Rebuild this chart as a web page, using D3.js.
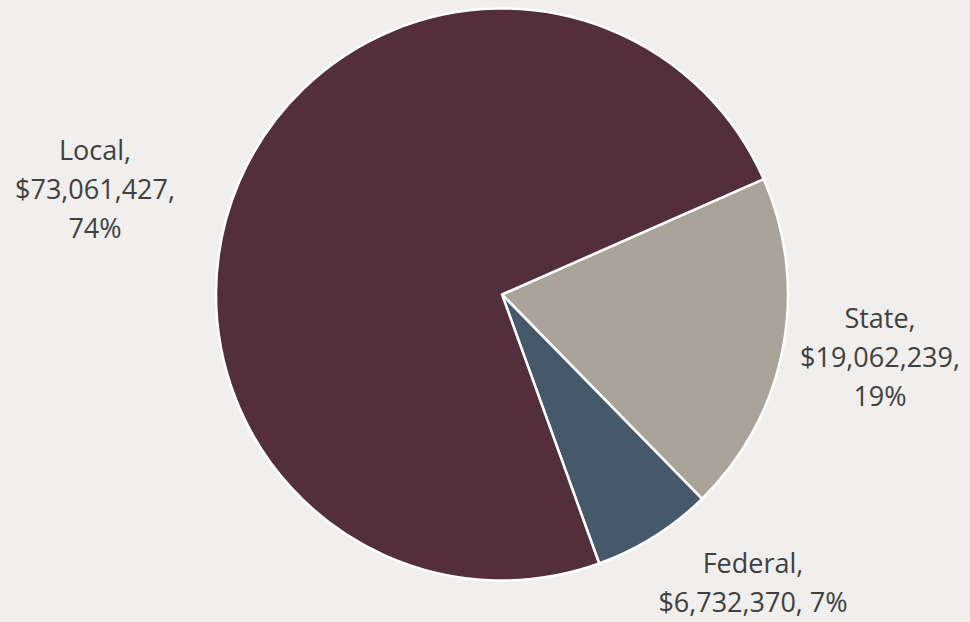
<!DOCTYPE html>
<html>
<head>
<meta charset="utf-8">
<script src="https://cdn.jsdelivr.net/npm/d3@7"></script>
<style>
  html, body { margin: 0; padding: 0; background: #f0efed; }
  svg { display: block; }
  text { font-family: "Open Sans", "Noto Sans", sans-serif; fill: #404040; }
</style>
</head>
<body>
<svg id="chart" width="970" height="622"></svg>
<script>
// Funding sources, in drawing order (clockwise from the State slice)
const categories = ["State", "Federal", "Local"];
const amounts = [19062239, 6732370, 73061427];
const percents = ["19%", "7%", "74%"];
const colors = ["#aaa39a", "#46596b", "#522f3b"];

// Label lines and anchor points for each slice
const labelLines = [
  ["State,", "$19,062,239,", "19%"],
  ["Federal,", "$6,732,370, 7%"],
  ["Local,", "$73,061,427,", "74%"]
];
const labelPos = [[880, 328], [753, 573], [95, 160]];

const width = 970, height = 622;
const cx = 502, cy = 294.5, radius = 286;
const startAngle = 66.2 * Math.PI / 180;

const svg = d3.select("#chart");
svg.append("rect").attr("width", width).attr("height", height).attr("fill", "#f0efed");

const data = categories.map((c, i) => ({ name: c, value: amounts[i], pct: percents[i], color: colors[i], lines: labelLines[i], pos: labelPos[i] }));

const pie = d3.pie()
  .value(d => d.value)
  .sort(null)
  .startAngle(startAngle)
  .endAngle(startAngle + 2 * Math.PI);

const arc = d3.arc().innerRadius(0).outerRadius(radius);

const g = svg.append("g").attr("transform", `translate(${cx},${cy})`);

g.selectAll("path")
  .data(pie(data))
  .join("path")
  .attr("d", arc)
  .attr("fill", d => d.data.color)
  .attr("stroke", "#ffffff")
  .attr("stroke-width", 2.5)
  .attr("stroke-linejoin", "round");

// Data labels
const labels = svg.selectAll("text.label")
  .data(data)
  .join("text")
  .attr("class", "label")
  .attr("text-anchor", "middle")
  .attr("font-size", 27)
  .attr("x", d => d.pos[0])
  .attr("y", d => d.pos[1]);

labels.selectAll("tspan")
  .data(d => d.lines.map(l => ({ text: l, x: d.pos[0] })))
  .join("tspan")
  .attr("x", d => d.x)
  .attr("dy", (d, i) => i === 0 ? 0 : 39)
  .text(d => d.text);
</script>
</body>
</html>
